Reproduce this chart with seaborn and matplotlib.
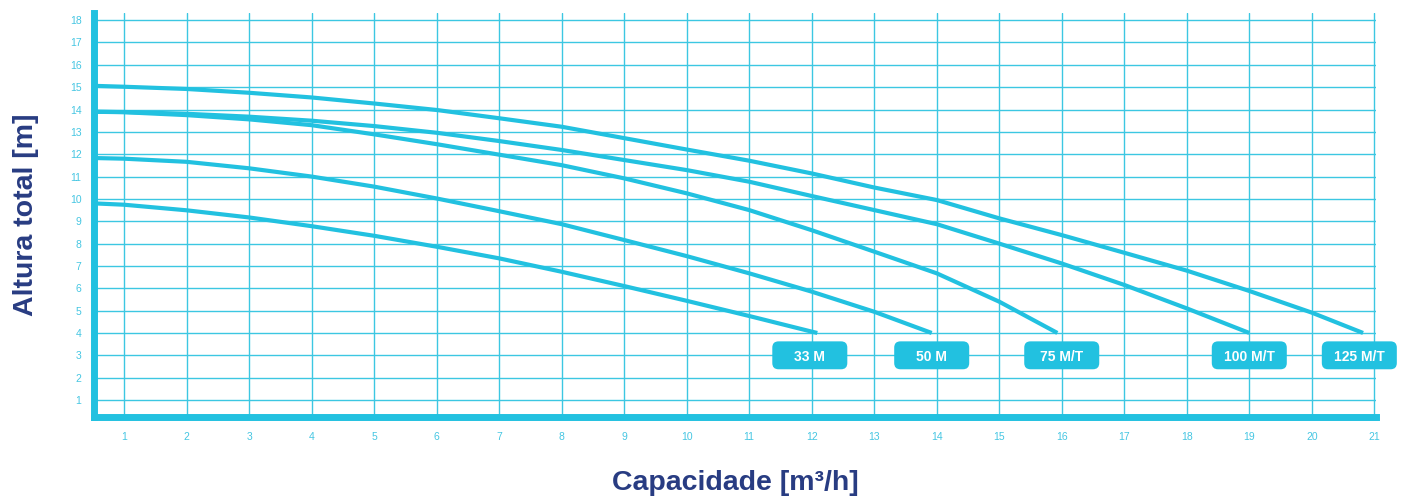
import pandas as pd
import matplotlib.pyplot as plt
import seaborn as sns
from matplotlib.patches import FancyBboxPatch

# Curvas de bomba (vazao x altura)
x33 = [0.52, 1, 2, 3, 4, 5, 6, 7, 8, 9, 10, 11, 12, 12.09]
y33 = [9.8, 9.74, 9.49, 9.17, 8.78, 8.35, 7.86, 7.34, 6.74, 6.1, 5.44, 4.76, 4.06, 4.0]

x50 = [0.52, 1, 2, 3, 4, 5, 6, 7, 8, 9, 10, 11, 12, 13, 13.92]
y50 = [11.83, 11.8, 11.66, 11.37, 11.0, 10.55, 10.02, 9.45, 8.87, 8.16, 7.44, 6.67, 5.85, 4.95, 4.0]

x75 = [0.52, 1, 2, 3, 4, 5, 6, 7, 8, 9, 10, 11, 12, 13, 14, 15, 15.93]
y75 = [13.9, 13.88, 13.75, 13.56, 13.3, 12.89, 12.45, 11.98, 11.51, 10.92, 10.25, 9.5, 8.6,
       7.64, 6.67, 5.4, 4.0]

x100 = [0.52, 1, 2, 3, 4, 5, 6, 7, 8, 9, 10, 11, 12, 13, 14, 15, 16, 17, 18, 19]
y100 = [13.9, 13.89, 13.81, 13.68, 13.5, 13.26, 12.96, 12.59, 12.19, 11.74, 11.29, 10.77,
        10.13, 9.5, 8.87, 8.0, 7.11, 6.15, 5.1, 4.0]

x125 = [0.52, 1, 2, 3, 4, 5, 6, 7, 8, 9, 10, 11, 12, 13, 14, 15, 16, 17, 18, 19, 20, 20.82]
y125 = [15.06, 15.02, 14.92, 14.75, 14.54, 14.27, 13.98, 13.61, 13.23, 12.72, 12.21, 11.71,
        11.14, 10.51, 9.95, 9.13, 8.38, 7.59, 6.79, 5.88, 4.91, 4.0]

modelos = ['33 M', '50 M', '75 M/T', '100 M/T', '125 M/T']
label_x = [11.97, 13.92, 16.0, 19.0, 20.76]
label_y = [3, 3, 3, 3, 3]

xticks = list(range(1, 22))
yticks = list(range(1, 19))

# monta tabela longa para o seaborn
series = [(x33, y33), (x50, y50), (x75, y75), (x100, y100), (x125, y125)]
frames = []
for nome, (xs, ys) in zip(modelos, series):
    frames.append(pd.DataFrame({'vazao': xs, 'altura': ys, 'modelo': nome}))
df = pd.concat(frames, ignore_index=True)

ciano = '#22c1e0'
grade = '#3cc7e2'
azul = '#283c82'

sns.set_style('white')
plt.rcParams['font.family'] = ['Liberation Sans', 'DejaVu Sans']

fig = plt.figure(figsize=(14.05, 4.96), dpi=100)
ax = fig.add_axes([0.0669, 0.1593, 0.9126, 0.8145])

sns.lineplot(data=df, x='vazao', y='altura', hue='modelo', sort=False,
             palette=[ciano] * len(modelos), linewidth=3, legend=False, ax=ax,
             solid_capstyle='butt')

ax.set_xlim(0.52, 21.03)
ax.set_ylim(0.24, 18.32)
ax.set_xticks(xticks)
ax.set_yticks(yticks)
ax.grid(True, color=grade, linewidth=1.0)
ax.set_axisbelow(True)
ax.tick_params(length=0, labelsize=7.5, labelcolor='#45c6e2')
ax.tick_params(axis='x', pad=11)
ax.tick_params(axis='y', pad=9)

for lado in ['top', 'right']:
    ax.spines[lado].set_visible(False)
for lado in ['left', 'bottom']:
    ax.spines[lado].set_color(ciano)
    ax.spines[lado].set_linewidth(5)

# caixas com o nome de cada modelo
for nome, lx, ly in zip(modelos, label_x, label_y):
    w, h = 1.2, 1.25
    caixa = FancyBboxPatch((lx - w / 2, ly - h / 2), w, h,
                           boxstyle='round,pad=0,rounding_size=0.1',
                           mutation_aspect=2.8, facecolor=ciano, edgecolor='none',
                           zorder=5, clip_on=False)
    ax.add_patch(caixa)
    ax.text(lx, ly, nome, color='white', fontsize=10, fontweight='bold',
            ha='center', va='center_baseline', zorder=6, clip_on=False)

ax.set_xlabel('Capacidade [m³/h]', fontsize=20.5, fontweight='bold', color=azul, labelpad=20)
ax.set_ylabel('Altura total [m]', fontsize=20.5, fontweight='bold', color=azul, labelpad=22)

fig.savefig('out.png', dpi=100)
